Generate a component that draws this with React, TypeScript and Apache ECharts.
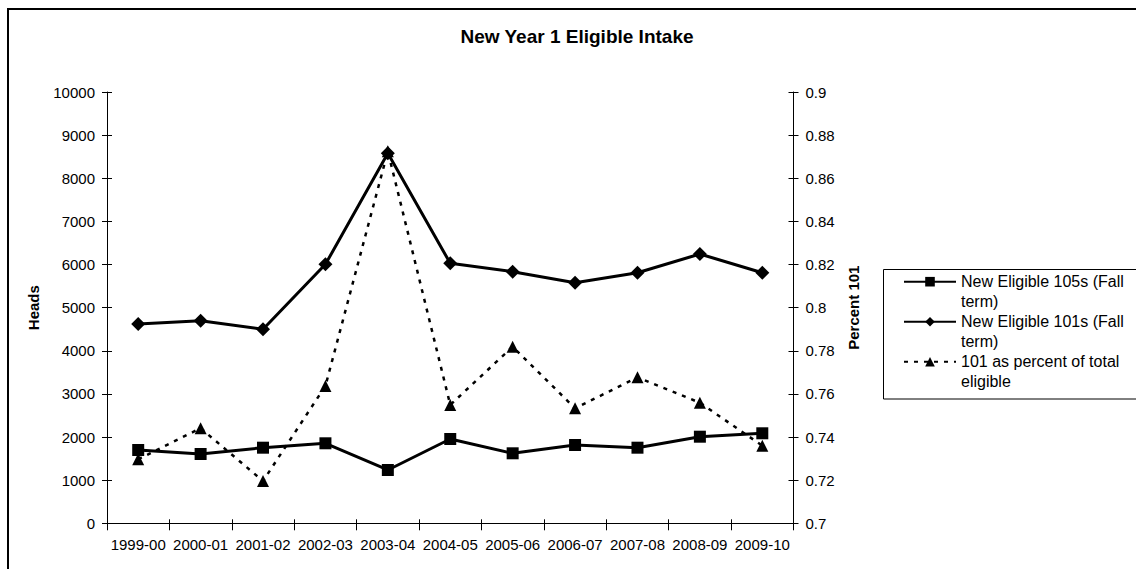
import React, { useEffect, useRef } from "react";
import * as echarts from "echarts";

const categories = ["1999-00", "2000-01", "2001-02", "2002-03", "2003-04", "2004-05", "2005-06", "2006-07", "2007-08", "2008-09", "2009-10"];
const eligible105 = [1700, 1607, 1753, 1855, 1236, 1955, 1623, 1815, 1753, 2008, 2087];
const eligible101 = [4621, 4697, 4498, 6005, 8579, 6028, 5834, 5578, 5810, 6244, 5810];
const percent101 = [0.7297, 0.7441, 0.7196, 0.7637, 0.8725, 0.7549, 0.7819, 0.7533, 0.7677, 0.7559, 0.736];

const seriesNames = ["New Eligible 105s (Fall term)", "New Eligible 101s (Fall term)", "101 as percent of total eligible"];
const titleText = "New Year 1 Eligible Intake";
const leftAxisName = "Heads";
const rightAxisName = "Percent 101";

const FONT = "'Liberation Sans', Arial, sans-serif";

export default function App() {
  const ref = useRef<HTMLDivElement>(null);
  useEffect(() => {
    if (!ref.current) return;
    const chart = echarts.init(ref.current, undefined, { renderer: "svg" });
    const labelStyle = { color: "#000", fontSize: 15, fontFamily: FONT };
    const axisLine = { show: true, lineStyle: { color: "#000", width: 1 } };
    const pctFmt = (v: number) => String(Number(v.toFixed(2)));
    const intFmt = (v: number) => String(Math.round(v));
    chart.setOption({
      animation: false,
      backgroundColor: "#fff",
      textStyle: { fontFamily: FONT, color: "#000" },
      title: {
        text: titleText,
        left: 577,
        top: 27,
        padding: 0,
        textAlign: "center",
        textStyle: { fontSize: 19, fontWeight: "bold", color: "#000", fontFamily: FONT },
      },
      grid: { left: 107, right: 342.5, top: 92, bottom: 45.7, containLabel: false },
      legend: {
        orient: "vertical",
        left: 903,
        top: 251.7,
        padding: 0,
        itemGap: -20,
        itemWidth: 52,
        itemHeight: 12,
        data: seriesNames,
        selectedMode: false,
        formatter: (name: string) => "\n" + name,
        textStyle: {
          fontSize: 16,
          color: "#000",
          fontFamily: FONT,
          width: 172,
          overflow: "break",
          lineHeight: 20,
        },
      },
      graphic: [
        {
          type: "rect",
          shape: { x: 8, y: 9, width: 2000, height: 2000 },
          style: { fill: "none", stroke: "#000", lineWidth: 2 },
          silent: true,
        },
        {
          type: "rect",
          shape: { x: 883.5, y: 269.5, width: 300, height: 129.5 },
          style: { fill: "none", stroke: "#000", lineWidth: 1 },
          silent: true,
        },
      ],
      xAxis: [
        {
          type: "category",
          data: categories,
          boundaryGap: true,
          axisLine,
          axisTick: { show: true, inside: false, length: 7, lineStyle: { color: "#000" } },
          axisLabel: { ...labelStyle, margin: 14, interval: 0 },
          splitLine: { show: false },
        },
        {
          type: "category",
          data: categories,
          position: "bottom",
          boundaryGap: true,
          axisLine: { show: false },
          axisTick: { show: true, inside: true, length: 4, lineStyle: { color: "#000" } },
          axisLabel: { show: false },
          splitLine: { show: false },
        },
      ],
      yAxis: [
        {
          type: "value",
          position: "left",
          min: 0,
          max: 10000,
          interval: 1000,
          name: leftAxisName,
          nameLocation: "middle",
          nameRotate: 90,
          nameGap: 66,
          nameTextStyle: { fontSize: 15, fontWeight: "bold", color: "#000", fontFamily: FONT },
          axisLine,
          axisTick: { show: true, inside: false, length: 5, lineStyle: { color: "#000" } },
          axisLabel: { ...labelStyle, margin: 12, formatter: intFmt },
          splitLine: { show: false },
        },
        {
          type: "value",
          position: "right",
          min: 0.7,
          max: 0.9,
          interval: 0.02,
          name: rightAxisName,
          nameLocation: "middle",
          nameRotate: 90,
          nameGap: 50,
          nameTextStyle: { fontSize: 15, fontWeight: "bold", color: "#000", fontFamily: FONT },
          axisLine,
          axisTick: { show: true, inside: false, length: 5, lineStyle: { color: "#000" } },
          axisLabel: { ...labelStyle, margin: 12, formatter: pctFmt },
          splitLine: { show: false },
        },
        {
          type: "value",
          position: "left",
          min: 0,
          max: 10000,
          interval: 1000,
          axisLine: { show: false },
          axisTick: { show: true, inside: true, length: 5, lineStyle: { color: "#000" } },
          axisLabel: { show: false },
          splitLine: { show: false },
        },
        {
          type: "value",
          position: "right",
          min: 0.7,
          max: 0.9,
          interval: 0.02,
          axisLine: { show: false },
          axisTick: { show: true, inside: true, length: 5, lineStyle: { color: "#000" } },
          axisLabel: { show: false },
          splitLine: { show: false },
        },
      ],
      series: [
        {
          name: seriesNames[0],
          type: "line",
          xAxisIndex: 0,
          yAxisIndex: 0,
          data: eligible105,
          symbol: "rect",
          symbolSize: 12,
          z: 4,
          lineStyle: { color: "#000", width: 3 },
          itemStyle: { color: "#000" },
        },
        {
          name: seriesNames[1],
          type: "line",
          xAxisIndex: 0,
          yAxisIndex: 0,
          data: eligible101,
          symbol: "diamond",
          symbolSize: 14,
          z: 3,
          lineStyle: { color: "#000", width: 3 },
          itemStyle: { color: "#000" },
        },
        {
          name: seriesNames[2],
          type: "line",
          xAxisIndex: 0,
          yAxisIndex: 1,
          data: percent101,
          symbol: "triangle",
          symbolSize: 12,
          z: 2,
          lineStyle: { color: "#000", width: 2.5, type: [4, 6] },
          itemStyle: { color: "#000" },
        },
      ],
    });
    return () => chart.dispose();
  }, []);
  return <div ref={ref} style={{ position: "absolute", left: 0, top: 0, width: 1136, height: 569 }} />;
}
